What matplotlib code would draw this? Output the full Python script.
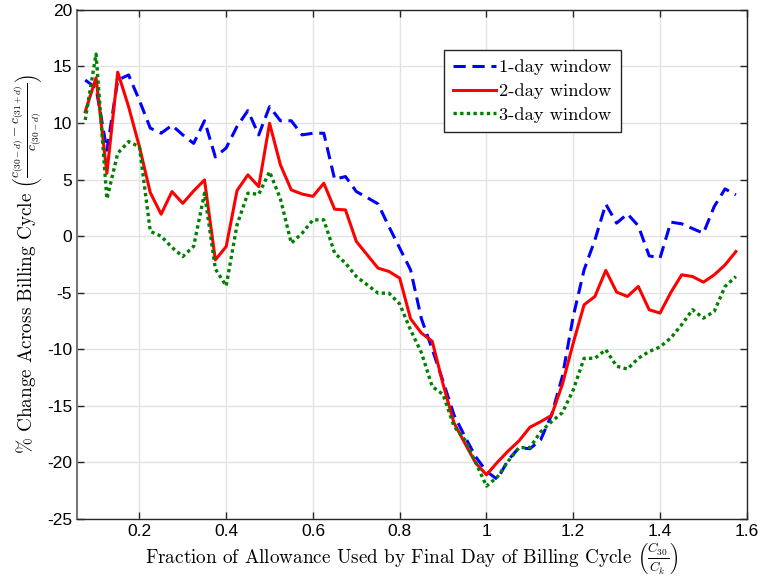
import numpy as np
import matplotlib
matplotlib.use("Agg")
import matplotlib.pyplot as plt

# fraction of allowance used (C30 / Ck), one sample every 0.025
frac_start = 0.075
frac_step = 0.025

one_day = [13.8, 13.1, 7.6, 13.8, 14.25, 12.0, 9.55, 9.1, 9.8, 8.95,
           8.2, 10.2, 7.0, 7.8, 9.7, 11.1, 8.95, 11.45, 10.2, 10.2,
           8.95, 9.1, 9.1, 5.03, 5.27, 3.94, 3.41, 2.85, 0.85, -1.06,
           -2.98, -7.3, -10.0, -12.85, -15.8, -17.7, -19.5, -20.8, -21.5, -19.8,
           -18.7, -18.8, -18.0, -15.8, -12.4, -7.1, -2.98, -0.33, 2.83, 1.15,
           1.97, 0.91, -1.74, -1.94, 1.24, 1.09, 0.67, 0.26, 2.62, 4.18,
           3.65]

two_day = [11.0, 14.0, 5.56, 14.5, 11.45, 7.9, 3.85, 1.94, 3.94, 2.9,
           4.0, 4.97, -2.1, -0.92, 4.03, 5.42, 4.38, 9.98, 6.3, 4.09,
           3.72, 3.52, 4.68, 2.38, 2.32, -0.47, -1.65, -2.83, -3.12, -3.71,
           -7.3, -8.57, -9.3, -13.1, -16.5, -18.3, -20.05, -21.1, -20.0, -19.0,
           -18.1, -16.9, -16.4, -15.85, -13.1, -9.45, -6.07, -5.33, -3.03, -4.95,
           -5.33, -4.45, -6.51, -6.8, -4.98, -3.42, -3.57, -4.07, -3.42, -2.54,
           -1.36]

three_day = [10.27, 16.1, 3.3, 7.33, 8.36, 7.9, 0.42, 0.0, -1.0, -1.8,
             -0.9, 3.8, -2.9, -4.4, 1.0, 3.8, 3.7, 5.7, 3.3, -0.62,
             0.26, 1.44, 1.44, -1.5, -2.39, -3.57, -4.3, -5.04, -5.04, -6.0,
             -8.3, -10.3, -13.3, -14.0, -16.8, -18.0, -20.0, -22.1, -21.3, -19.9,
             -18.7, -18.7, -17.3, -16.4, -15.6, -13.6, -10.8, -10.8, -10.04, -11.5,
             -11.75, -10.8, -10.2, -9.8, -9.0, -7.83, -6.5, -7.25, -6.66, -4.45,
             -3.57]

series_labels = ["1-day window", "2-day window", "3-day window"]

frac = frac_start + frac_step * np.arange(len(one_day))

plt.rcParams["mathtext.fontset"] = "cm"
serif = "cmr10"

fig = plt.figure(figsize=(7.62, 5.85), dpi=100)
ax = fig.add_axes([0.101, 0.113, 0.879, 0.870])

ax.plot(frac, one_day, color="#0000ff", lw=2.2, linestyle=(0, (4, 2.2)),
        label=series_labels[0])
ax.plot(frac, two_day, color="#ff0000", lw=2.2, linestyle="-",
        label=series_labels[1])
ax.plot(frac, three_day, color="#008000", lw=2.4, linestyle=(0, (1, 1)),
        label=series_labels[2])

ax.set_xlim(0.056, 1.6)
ax.set_ylim(-25, 20)
ax.set_xticks([0.2, 0.4, 0.6, 0.8, 1.0, 1.2, 1.4, 1.6])
ax.set_xticklabels(["0.2", "0.4", "0.6", "0.8", "1", "1.2", "1.4", "1.6"])
ax.set_yticks(np.arange(-25, 21, 5))
ax.set_yticklabels([str(v) for v in range(-25, 21, 5)])

ax.grid(True, color="#e3e3e3", lw=1.0)
ax.set_axisbelow(True)
ax.tick_params(direction="in", length=5, width=1, top=True, right=True,
               labelsize=12.5, color="#262626")
for lbl in ax.get_xticklabels() + ax.get_yticklabels():
    lbl.set_fontfamily("Liberation Sans")
for s in ax.spines.values():
    s.set_linewidth(1.0)
    s.set_color("#262626")
ax.spines["left"].set_color("#777777")
ax.spines["left"].set_linewidth(1.5)

ax.set_xlabel(r"Fraction of Allowance Used by Final Day of Billing Cycle "
              r"$\left(\frac{C_{30}}{C_k}\right)$",
              fontfamily=serif, fontsize=13.8, labelpad=1)
ax.set_ylabel(r"% Change Across Billing Cycle "
              r"$\left(\frac{c_{(30-d)}-c_{(31+d)}}{c_{(30-d)}}\right)$",
              fontfamily=serif, fontsize=13.8, labelpad=1)

leg = ax.legend(loc="upper left", bbox_to_anchor=(0.548, 0.921),
                prop={"family": serif, "size": 13.3}, fancybox=False,
                framealpha=1, edgecolor="#262626", handlelength=2.3,
                handletextpad=0.2, borderpad=0.5, labelspacing=0.42,
                borderaxespad=0)
leg.get_frame().set_linewidth(1.0)

fig.savefig("out.png", dpi=100)
